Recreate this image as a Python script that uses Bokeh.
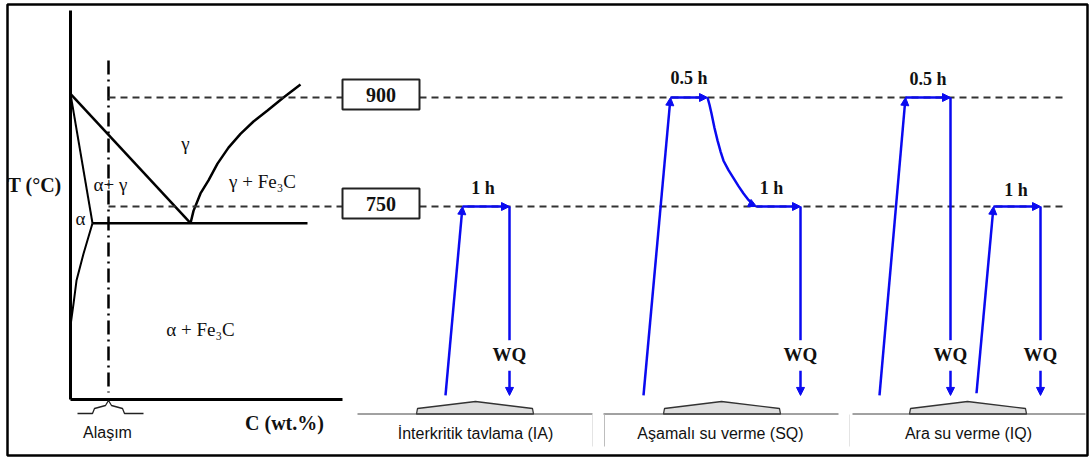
from bokeh.plotting import figure
from bokeh.models import Range1d, Arrow, NormalHead
from bokeh.core.properties import value
from bokeh.embed import file_html
from bokeh.resources import INLINE

# ---------------- data ----------------
levels = [900, 750]
level_labels = ["900", "750"]
T_ROOM = 490
T_WQ_TOP = 566      # quench line ends above label
T_WQ_LABEL = 546
T_WQ_ARROW = 524

# Interkritik tavlama (IA)
ia_time = [445, 462, 509]
ia_temp = [T_ROOM, 750, 750]
# Asamali su verme (SQ)
sq_time = [643, 670, 707]
sq_temp = [T_ROOM, 900, 900]
sq_cool_time = [707, 709, 711, 714, 717, 720, 723, 728, 733, 738, 743, 748, 753, 756]
sq_cool_temp = [900, 890, 878, 858, 841, 826, 813, 800, 789, 778, 768, 759, 752, 750]
sq_hold2_time = [756, 800]
# Ara su verme (IQ)
iq_time1 = [879, 905, 950]
iq_temp1 = [T_ROOM, 900, 900]
iq_time2 = [976, 993, 1040]
iq_temp2 = [493, 750, 750]

hold_labels = ["1 h", "0.5 h", "1 h", "0.5 h", "1 h"]
section_titles = ["İnterkritik tavlama (IA)", "Aşamalı su verme (SQ)", "Ara su verme (IQ)"]

# Phase diagram (x: composition position, y: temperature)
a3_c = [70, 190]
a3_T = [905, 727]
acm_c = [190, 193, 200, 208, 217, 228, 240, 253, 267, 283, 300]
acm_T = [727, 744, 768, 786, 809, 831, 850, 867, 882, 900, 918]
alpha_c = [70, 92]
alpha_T = [905, 727]
solvus_c = [92, 83, 76, 73, 70]
solvus_T = [727, 685, 648, 616, 586]
eut_c = [92, 307]
T_EUT = 727
alloy_c = 108

# ---------------- layout helpers ----------------
W, H = 1092, 457
PX = 109 / 150.0           # pixels per degree


def Y(px):
    return 900 - (px - 97) / PX


BLUE = "#0a0af0"
DARK = "#222222"
SERIF = value("Liberation Serif")
SANS = value("Liberation Sans")

p = figure(width=W, height=H, x_range=Range1d(0, W), y_range=Range1d(Y(H), Y(0)),
           output_backend="svg", toolbar_location=None, min_border=0)
p.axis.visible = False
p.grid.visible = False
p.outline_line_color = None
p.background_fill_color = "white"

# outer frame
p.rect(x=[547], y=[Y(229.5)], width=1080, height=451 / PX,
       fill_color=None, line_color="black", line_width=2.5)

# ---------------- phase diagram ----------------
p.line([70, 70], [Y(10), Y(399)], line_color="black", line_width=3)
p.line([70, 342], [Y(399), Y(399)], line_color="black", line_width=3)
p.line(a3_c, a3_T, line_color="black", line_width=2.5)
p.line(acm_c, acm_T, line_color="black", line_width=2.5)
p.line(alpha_c, alpha_T, line_color="black", line_width=2)
p.line(solvus_c, solvus_T, line_color="black", line_width=2)
p.line(eut_c, [T_EUT, T_EUT], line_color="black", line_width=2.5)
p.line([alloy_c, alloy_c], [Y(60), Y(392)], line_color="black", line_width=2.5,
       line_dash="14 5 2 5")

# dashed temperature levels
for t in levels:
    p.line([alloy_c, 342], [t, t], line_color="#333333", line_width=2, line_dash="7 5")
    p.line([419, 1062], [t, t], line_color="#333333", line_width=2, line_dash="7 5")

# boxes with temperatures
p.rect(x=[380.5, 380.5], y=[t + 4 for t in levels], width=77, height=30 / PX,
       fill_color="white", line_color=DARK, line_width=2)
p.text(x=[380.5, 380.5], y=[t + 4 for t in levels], text=level_labels,
       text_font=SERIF, text_font_style="bold", text_font_size="20px",
       text_align="center", text_baseline="middle", text_color="#111111")

# phase labels
p.text(x=[185, 110, 262, 80, 200], y=[Y(143), Y(184), Y(181), Y(218), Y(329)],
       text=["γ", "α+ γ", "γ + Fe₃C", "α", "α + Fe₃C"],
       text_font=SERIF, text_font_size="19px", text_align="center",
       text_baseline="middle", text_color="#111111")
p.text(x=[7], y=[Y(184)], text=["T (°C)"], text_font=SERIF, text_font_style="bold",
       text_font_size="20px", text_align="left", text_baseline="middle", text_color="#111111")
p.text(x=[284], y=[Y(422)], text=["C (wt.%)"], text_font=SERIF, text_font_style="bold",
       text_font_size="20px", text_align="center", text_baseline="middle", text_color="#111111")

# brace + alloy label
p.line([77, 92, 94, 105, 108, 111, 122, 124, 143],
       [Y(413), Y(413), Y(408), Y(405), Y(400), Y(405), Y(408), Y(413), Y(413)],
       line_color=DARK, line_width=1.3)
p.text(x=[107], y=[Y(432)], text=["Alaşım"], text_font=SANS, text_font_size="16px",
       text_align="center", text_baseline="middle", text_color="#111111")

# ---------------- sections baseline & titles ----------------
sections = [(357, 592, 416, 475, 533), (603, 838, 663, 721, 780), (852, 1085, 909, 967, 1026)]
for (a, b, hl, hp, hr) in sections:
    p.patch([hl, hl + 1, hp, hr - 1, hr], [Y(413.5), Y(408), Y(401), Y(408), Y(413.5)],
            fill_color="#dedede", line_color="#333333", line_width=1.3)
    p.line([a, b], [Y(413.5), Y(413.5)], line_color="#444444", line_width=1)
for xs in [592, 849]:
    p.line([xs, xs], [Y(414), Y(446)], line_color="#e4e4e4", line_width=1)
p.line([604, 604], [Y(414), Y(446)], line_color="#bdbdbd", line_width=1)
p.text(x=[475, 720, 968], y=[Y(433)] * 3, text=section_titles, text_font=SANS,
       text_font_size="16px", text_align="center", text_baseline="middle", text_color="#111111")

# ---------------- heat-treatment profiles ----------------


def arrow(x0, y0, x1, y1):
    p.add_layout(Arrow(end=NormalHead(size=8, fill_color=BLUE, line_color=BLUE, line_width=1),
                       x_start=x0, y_start=y0, x_end=x1, y_end=y1,
                       line_color=BLUE, line_width=2.5))


def seg(x0, y0, x1, y1):
    p.line([x0, x1], [y0, y1], line_color=BLUE, line_width=2.5)


def quench(x, t):
    seg(x, t, x, T_WQ_TOP)
    arrow(x, T_WQ_ARROW, x, T_ROOM)


# IA
arrow(ia_time[0], ia_temp[0], ia_time[1], ia_temp[1])
arrow(ia_time[1], ia_temp[1], ia_time[2], ia_temp[2])
quench(ia_time[2], ia_temp[2])
# SQ
arrow(sq_time[0], sq_temp[0], sq_time[1], sq_temp[1])
arrow(sq_time[1], sq_temp[1], sq_time[2], sq_temp[2])
p.line(sq_cool_time[:-1], sq_cool_temp[:-1], line_color=BLUE, line_width=2.5,
       line_join="round")
arrow(sq_cool_time[-2], sq_cool_temp[-2], sq_cool_time[-1], sq_cool_temp[-1])
arrow(sq_hold2_time[0], 750, sq_hold2_time[1], 750)
quench(sq_hold2_time[1], 750)
# IQ
arrow(iq_time1[0], iq_temp1[0], iq_time1[1], iq_temp1[1])
arrow(iq_time1[1], iq_temp1[1], iq_time1[2], iq_temp1[2])
quench(iq_time1[2], iq_temp1[2])
arrow(iq_time2[0], iq_temp2[0], iq_time2[1], iq_temp2[1])
arrow(iq_time2[1], iq_temp2[1], iq_time2[2], iq_temp2[2])
quench(iq_time2[2], iq_temp2[2])

# hold labels
hold_x = [(ia_time[1] + ia_time[2]) / 2 - 3,
          (sq_time[1] + sq_time[2]) / 2,
          (sq_hold2_time[0] + sq_hold2_time[1]) / 2 - 7,
          (iq_time1[1] + iq_time1[2]) / 2,
          (iq_time2[1] + iq_time2[2]) / 2 - 1]
hold_y = [750 + 25, 900 + 27, 750 + 25, 900 + 26, 750 + 23]
p.text(x=hold_x, y=hold_y, text=hold_labels, text_font=SERIF, text_font_style="bold",
       text_font_size="18px", text_align="center", text_baseline="middle", text_color="#111111")

# WQ labels
wq_x = [ia_time[2], sq_hold2_time[1], iq_time1[2], iq_time2[2]]
p.text(x=wq_x, y=[T_WQ_LABEL] * 4, text=["WQ"] * 4, text_font=SERIF, text_font_style="bold",
       text_font_size="19px", text_align="center", text_baseline="middle", text_color="#111111")

open("out.html", "w").write(file_html(p, INLINE))
